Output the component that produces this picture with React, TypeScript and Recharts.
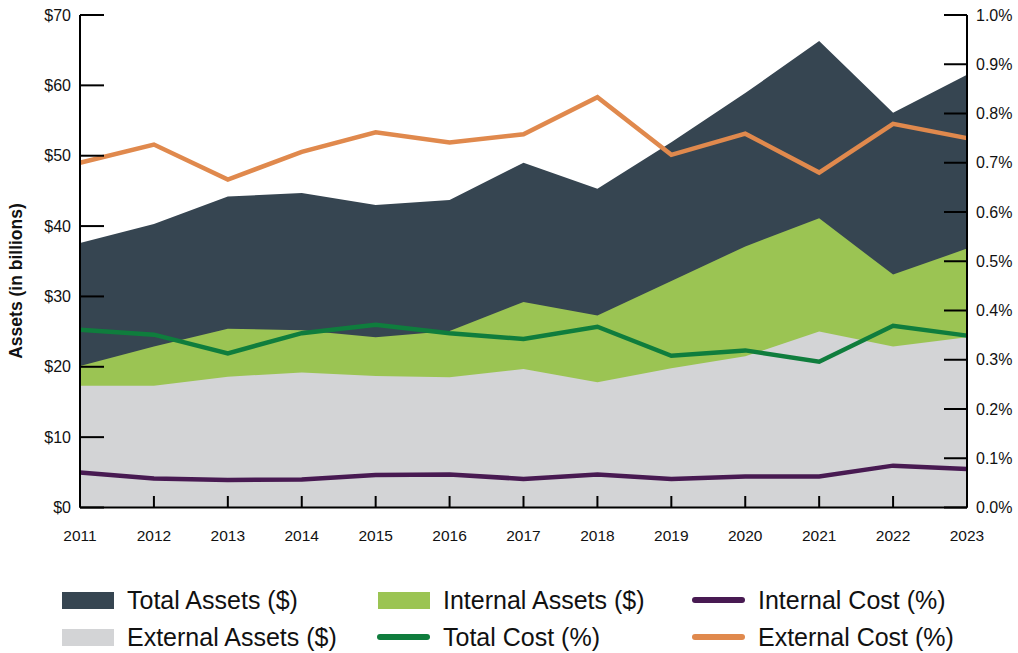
import React from "react";
import { ComposedChart, Area, Line, XAxis, YAxis } from "recharts";

const years = [2011, 2012, 2013, 2014, 2015, 2016, 2017, 2018, 2019, 2020, 2021, 2022, 2023];
const totalAssets = [37.6, 40.3, 44.2, 44.7, 43.0, 43.7, 49.0, 45.3, 51.9, 58.9, 66.3, 56.1, 61.5];
const internalAssets = [20.1, 22.9, 25.4, 25.2, 24.2, 25.1, 29.2, 27.3, 32.2, 37.1, 41.1, 33.1, 36.8];
const externalAssets = [17.3, 17.3, 18.6, 19.2, 18.7, 18.5, 19.7, 17.8, 19.8, 21.5, 25.0, 22.9, 24.2];
const totalCost = [0.361, 0.351, 0.313, 0.354, 0.371, 0.354, 0.342, 0.367, 0.308, 0.319, 0.296, 0.369, 0.349];
const internalCost = [0.071, 0.059, 0.056, 0.057, 0.066, 0.067, 0.058, 0.067, 0.058, 0.063, 0.063, 0.085, 0.078];
const externalCost = [0.700, 0.737, 0.666, 0.722, 0.762, 0.741, 0.758, 0.833, 0.716, 0.759, 0.680, 0.779, 0.750];
const assetTicks = [0, 10, 20, 30, 40, 50, 60, 70];
const costTicks = [0, 0.1, 0.2, 0.3, 0.4, 0.5, 0.6, 0.7, 0.8, 0.9, 1.0];

const data = years.map((year, i) => ({
  year,
  totalAssets: totalAssets[i],
  internalAssets: internalAssets[i],
  externalAssets: externalAssets[i],
  totalCost: totalCost[i],
  internalCost: internalCost[i],
  externalCost: externalCost[i],
}));

const FONT = "'Liberation Sans', Arial, sans-serif";
const C = {
  total: "#364551",
  internal: "#9bc453",
  external: "#d3d4d6",
  totalCost: "#0f7d3d",
  internalCost: "#481a52",
  externalCost: "#e0894d",
};

const LeftTick = (props: any) => {
  const { y, payload } = props;
  return (
    <g>
      <line x1={80} x2={104} y1={y} y2={y} stroke="#000" strokeWidth={2} />
      <text x={71} y={y} textAnchor="end" dominantBaseline="central" fontSize={16} fill="#111" fontFamily={FONT}>
        ${payload.value}
      </text>
    </g>
  );
};

const RightTick = (props: any) => {
  const { y, payload } = props;
  return (
    <g>
      <line x1={944} x2={967} y1={y} y2={y} stroke="#000" strokeWidth={2} />
      <text x={976} y={y} textAnchor="start" dominantBaseline="central" fontSize={16} fill="#111" fontFamily={FONT}>
        {payload.value.toFixed(1)}%
      </text>
    </g>
  );
};

const BottomTick = (props: any) => {
  const { x, payload } = props;
  return (
    <g>
      <line x1={x} x2={x} y1={496} y2={507.5} stroke="#000" strokeWidth={2} />
      <text x={x} y={535} textAnchor="middle" dominantBaseline="central" fontSize={15.5} fill="#111" fontFamily={FONT}>
        {payload.value}
      </text>
    </g>
  );
};

const AxisTitle = () => (
  <text
    x={16}
    y={281}
    transform="rotate(-90 16 281)"
    textAnchor="middle"
    dominantBaseline="central"
    fontSize={17.5}
    fontWeight={700}
    fill="#111"
    fontFamily={FONT}
  >
    Assets (in billions)
  </text>
);

const legendItems = [
  { label: "Total Assets ($)", color: C.total, kind: "box", left: 62, top: 591 },
  { label: "Internal Assets ($)", color: C.internal, kind: "box", left: 378, top: 591 },
  { label: "Internal Cost (%)", color: C.internalCost, kind: "line", left: 692, top: 591 },
  { label: "External Assets ($)", color: C.external, kind: "box", left: 62, top: 628 },
  { label: "Total Cost (%)", color: C.totalCost, kind: "line", left: 377, top: 628 },
  { label: "External Cost (%)", color: C.externalCost, kind: "line", left: 692, top: 628 },
];

export default function App() {
  return (
    <div style={{ position: "absolute", left: 0, top: 0, width: 1018, height: 653, background: "#fff", fontFamily: FONT }}>
      <ComposedChart width={1018} height={560} data={data} margin={{ top: 15, right: 0, bottom: 0, left: 0 }}>
        <Area yAxisId="left" type="linear" dataKey="totalAssets" stroke="none" fill={C.total} fillOpacity={1} isAnimationActive={false} />
        <Area yAxisId="left" type="linear" dataKey="internalAssets" stroke="none" fill={C.internal} fillOpacity={1} isAnimationActive={false} />
        <Area yAxisId="left" type="linear" dataKey="externalAssets" stroke="none" fill={C.external} fillOpacity={1} isAnimationActive={false} />
        <Line yAxisId="right" type="linear" dataKey="internalCost" stroke={C.internalCost} strokeWidth={4.5} dot={false} isAnimationActive={false} />
        <Line yAxisId="right" type="linear" dataKey="totalCost" stroke={C.totalCost} strokeWidth={4.5} dot={false} isAnimationActive={false} />
        <Line yAxisId="right" type="linear" dataKey="externalCost" stroke={C.externalCost} strokeWidth={4.5} dot={false} isAnimationActive={false} />
        <XAxis
          dataKey="year"
          type="number"
          domain={[2011, 2023]}
          ticks={years}
          height={52.5}
          axisLine={{ stroke: "#000", strokeWidth: 2 }}
          tickLine={false}
          tick={<BottomTick />}
          interval={0}
        />
        <YAxis
          yAxisId="left"
          width={80}
          domain={[0, 70]}
          ticks={assetTicks}
          axisLine={{ stroke: "#000", strokeWidth: 2 }}
          tickLine={false}
          tick={<LeftTick />}
          interval={0}
          label={{ content: () => <AxisTitle /> }}
        />
        <YAxis
          yAxisId="right"
          orientation="right"
          width={51}
          domain={[0, 1]}
          ticks={costTicks}
          axisLine={{ stroke: "#000", strokeWidth: 2 }}
          tickLine={false}
          tick={<RightTick />}
          interval={0}
        />
      </ComposedChart>
      {legendItems.map((it) => (
        <div key={it.label} style={{ position: "absolute", left: it.left, top: it.top - 5, height: 28, display: "flex", alignItems: "center", whiteSpace: "nowrap" }}>
          {it.kind === "box" ? (
            <div style={{ width: 52, height: 17, background: it.color }} />
          ) : (
            <div style={{ width: 53, height: 6, borderRadius: 3, background: it.color }} />
          )}
          <span style={{ marginLeft: 13, fontSize: 25, color: "#111" }}>{it.label}</span>
        </div>
      ))}
    </div>
  );
}
